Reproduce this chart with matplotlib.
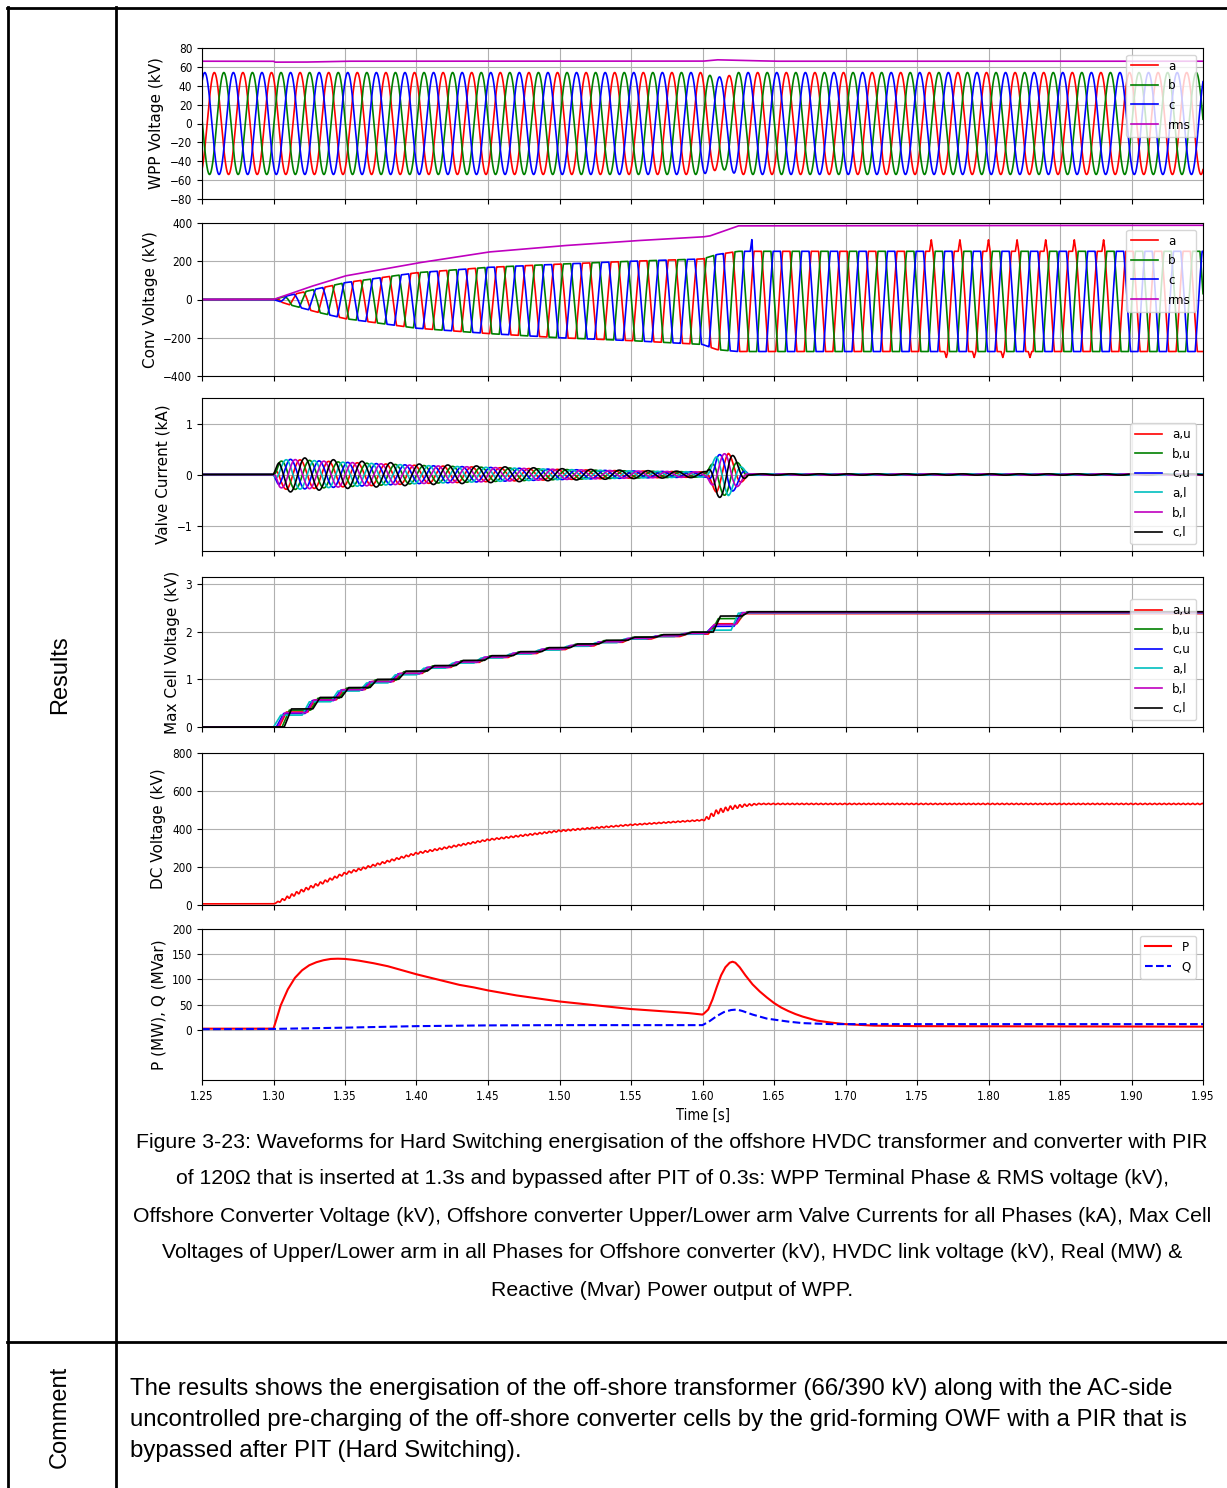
import numpy as np
import matplotlib.pyplot as plt
from matplotlib.lines import Line2D

plt.rcParams['font.family'] = ['DejaVu Sans']
plt.rcParams['font.stretch'] = 'condensed'

# --- simulation settings ---
t_start, t_end = 1.25, 1.95
f_grid = 50.0
t_peak_a = 1.2586          # first positive peak of phase a

# WPP terminal voltage (kV)
wpp_t = [1.25, 1.30, 1.60, 1.607, 1.615, 1.625, 1.95]
wpp_peak = [54, 54, 54, 50, 49, 54, 54]
wpp_rms_t = [1.25, 1.30, 1.301, 1.32, 1.35, 1.60, 1.61, 1.625, 1.65, 1.95]
wpp_rms = [66, 66, 65, 65, 66, 66, 67.5, 67, 66, 66]

# converter phase voltage envelopes (kV)
conv_t = [1.25, 1.30, 1.31, 1.33, 1.35, 1.40, 1.45, 1.50, 1.55, 1.60, 1.61, 1.625, 1.95]
conv_pos = [0, 0, 20, 55, 88, 140, 168, 185, 200, 212, 235, 252, 252]
conv_neg = [0, 0, 25, 65, 100, 150, 178, 200, 215, 235, 262, 272, 272]
conv_rms_t = [1.25, 1.30, 1.325, 1.35, 1.40, 1.45, 1.50, 1.55, 1.60, 1.605, 1.625, 1.95]
conv_rms = [0, 0, 65, 123, 190, 248, 280, 306, 327, 332, 385, 388]
# overshoots: phase index (0=a, 1=b, 2=c), time (s), height (kV)
spike_phase = [2, 0, 0, 0, 0, 0, 0, 0, 0, 0, 0, 0]
spike_t = [1.6346, 1.760, 1.7705, 1.780, 1.790, 1.800, 1.810, 1.820, 1.829, 1.840, 1.860, 1.8805]
spike_kv = [66, 60, -31, 60, -31, 60, -31, 60, -31, 60, 60, 60]

# valve current envelope (kA)
vc_t = [1.25, 1.30, 1.304, 1.31, 1.35, 1.40, 1.45, 1.50, 1.55, 1.60, 1.603, 1.61, 1.618, 1.626, 1.632, 1.95]
vc_amp = [0, 0, 0.25, 0.30, 0.24, 0.18, 0.14, 0.10, 0.07, 0.05, 0.05, 0.38, 0.42, 0.20, 0.01, 0.01]

# max cell voltage envelope (kV)
cell_t = [1.25, 1.30, 1.31, 1.32, 1.35, 1.40, 1.45, 1.50, 1.55, 1.60, 1.61, 1.62, 1.95]
cell_env = [0, 0, 0.25, 0.42, 0.76, 1.19, 1.46, 1.67, 1.86, 1.99, 2.05, 2.41, 2.41]
cell_final = [2.38, 2.42, 2.40, 2.39, 2.40, 2.42]
cell_delay = [0.004, 0.006, 0.002, 0.0, 0.003, 0.0075]

# DC link voltage (kV)
dc_t = [1.25, 1.30, 1.305, 1.31, 1.32, 1.35, 1.40, 1.45, 1.50, 1.55, 1.60, 1.603, 1.61, 1.62, 1.63, 1.64, 1.95]
dc_v = [6, 6, 22, 40, 75, 166, 272, 343, 390, 422, 447, 455, 490, 512, 525, 532, 532]
dc_ripple = [0, 0, 6, 8, 8, 6, 5, 4, 4, 3, 3, 10, 12, 10, 6, 3, 3]

# WPP power output
p_t = [1.25, 1.30, 1.302, 1.305, 1.31, 1.315, 1.32, 1.325, 1.33, 1.335, 1.34, 1.345,
       1.35, 1.355, 1.36, 1.37, 1.38, 1.39, 1.40, 1.41, 1.42, 1.43, 1.44, 1.45,
       1.46, 1.47, 1.48, 1.49, 1.50, 1.51, 1.52, 1.53, 1.54, 1.55, 1.56, 1.57,
       1.58, 1.59, 1.60, 1.601, 1.604, 1.607, 1.61, 1.613, 1.616, 1.619, 1.621, 1.623,
       1.626, 1.63, 1.635, 1.64, 1.645, 1.65, 1.655, 1.66, 1.665, 1.67, 1.675, 1.68,
       1.69, 1.70, 1.72, 1.75, 1.95]
p_mw = [2, 2, 20, 48, 80, 103, 118, 128, 134, 138, 140.5, 141,
        140.5, 139, 137, 132, 126, 118, 110, 103, 96, 89, 84, 78,
        73, 68, 64, 60, 56, 53, 50, 47, 44, 41, 39, 37,
        35, 33, 30, 32, 40, 60, 85, 108, 124, 133, 135, 133,
        124, 108, 90, 76, 64, 53, 44, 37, 31, 26, 22, 18,
        14, 11, 8, 7, 6]
q_t = [1.25, 1.30, 1.35, 1.40, 1.45, 1.50, 1.55, 1.60, 1.605, 1.61, 1.615, 1.62, 1.624,
       1.628, 1.635, 1.64, 1.645, 1.65, 1.66, 1.67, 1.68, 1.69, 1.95]
q_mvar = [1, 1.5, 4, 7, 8.5, 9, 9, 9, 17, 27, 35, 39, 40,
          37, 30, 26, 22, 20, 16, 13, 12, 11, 11]

xticks = [1.25, 1.30, 1.35, 1.40, 1.45, 1.50, 1.55, 1.60, 1.65, 1.70, 1.75, 1.80, 1.85, 1.90, 1.95]

# --- waveforms ---
t = np.arange(t_start, t_end + 1e-9, 2e-5)
theta = 2 * np.pi * f_grid * (t - t_peak_a)
ph3 = np.deg2rad([0, -120, 120])
ph6 = np.deg2rad([0, -120, 120, 180, 60, -60])


def bump(tc, h, w=0.0012):
    return h * np.clip(1 - np.abs(t - tc) / w, 0, None)


W, H = 1227, 1488
fig = plt.figure(figsize=(W / 100, H / 100), dpi=100)


def add_ax(top, bottom):
    return fig.add_axes([202 / W, 1 - bottom / H, 1001 / W, (bottom - top) / H])


axes = [add_ax(48, 199), add_ax(223, 376), add_ax(398, 551),
        add_ax(577, 727), add_ax(753, 905), add_ax(929, 1080)]
lw = 1.2
leg_kw = dict(fontsize=9.5)

# WPP voltage
ax = axes[0]
amp = np.interp(t, wpp_t, wpp_peak)
for sh, c, lab in zip(ph3, ['r', 'g', 'b'], ['a', 'b', 'c']):
    ax.plot(t, amp * np.cos(theta + sh), color=c, lw=lw, label=lab)
ax.plot(t, np.interp(t, wpp_rms_t, wpp_rms), color='m', lw=lw, label='rms')
ax.set_ylim(-80, 80)
ax.set_yticks(range(-80, 81, 20))
ax.set_ylabel('WPP Voltage (kV)')
ax.legend(loc='upper right', **leg_kw)

# converter voltage
ax = axes[1]
pos = np.interp(t, conv_t, conv_pos)
neg = np.interp(t, conv_t, conv_neg)
for i, (sh, c, lab) in enumerate(zip(ph3, ['r', 'g', 'b'], ['a', 'b', 'c'])):
    s = np.clip(1.45 * np.cos(theta + sh), -1, 1)
    v = np.where(s >= 0, pos * s, neg * s)
    for ph, ts, h in zip(spike_phase, spike_t, spike_kv):
        if ph == i:
            v = v + bump(ts, h)
    ax.plot(t, v, color=c, lw=lw, label=lab)
ax.plot(t, np.interp(t, conv_rms_t, conv_rms), color='m', lw=lw, label='rms')
ax.set_ylim(-400, 400)
ax.set_yticks([-400, -200, 0, 200, 400])
ax.set_ylabel('Conv Voltage (kV)')
ax.legend(loc='upper right', **leg_kw)

# valve currents
arm_cols = ['r', 'g', 'b', 'c', 'm', 'k']
arm_labs = ['a,u', 'b,u', 'c,u', 'a,l', 'b,l', 'c,l']
arm_gain = [1, 1, 1, 1, 1, 1.15]
ax = axes[2]
ia = np.interp(t, vc_t, vc_amp)
for sh, c, lab, g in zip(ph6, arm_cols, arm_labs, arm_gain):
    ax.plot(t, g * ia * np.cos(theta + sh), color=c, lw=lw, label=lab)
ax.set_ylim(-1.5, 1.5)
ax.set_yticks([-1, 0, 1])
ax.set_ylabel('Valve Current (kA)')
ax.legend(loc='lower right', **leg_kw)

# max cell voltages (each arm charges once per cycle, short ramp per step)
ax = axes[3]
period = 1 / f_grid
ramp = 0.005
for d, c, lab, vf in zip(cell_delay, arm_cols, arm_labs, cell_final):
    t0 = 1.30 + d
    k = np.floor((t - t0) / period)
    tk = t0 + k * period
    v_new = np.interp(tk + 0.5 * period, cell_t, cell_env)
    v_old = np.interp(tk - 0.5 * period, cell_t, cell_env)
    frac = np.clip((t - tk) / ramp, 0, 1)
    v = np.where(t >= t0, v_old + (v_new - v_old) * frac, 0.0)
    v = v * vf / cell_env[-1]
    ax.plot(t, v, color=c, lw=lw, label=lab)
ax.set_ylim(0, 3.15)
ax.set_yticks([0, 1, 2, 3])
ax.set_ylabel('Max Cell Voltage (kV)')
ax.legend(loc='lower right', **leg_kw)

# DC link voltage
ax = axes[4]
vdc = np.interp(t, dc_t, dc_v) + np.interp(t, dc_t, dc_ripple) * np.sin(6 * theta)
ax.plot(t, vdc, color='r', lw=lw)
ax.set_ylim(0, 800)
ax.set_yticks(range(0, 801, 200))
ax.set_ylabel('DC Voltage (kV)')

# active / reactive power
ax = axes[5]
ax.plot(p_t, p_mw, color='r', lw=1.5, label='P')
ax.plot(q_t, q_mvar, color='b', lw=1.5, ls='--', label='Q')
ax.set_ylim(-100, 200)
ax.set_yticks(range(0, 201, 50))
ax.set_ylabel('P (MW), Q (MVar)')
ax.set_xlabel('Time [s]', fontsize=10.5)
ax.legend(loc='upper right', **leg_kw)

for i, ax in enumerate(axes):
    ax.set_xlim(t_start, t_end)
    ax.set_xticks(xticks)
    ax.grid(True, color='#b0b0b0', lw=0.8)
    ax.tick_params(labelsize=8.5)
    ax.yaxis.label.set_fontsize(11)
    ax.yaxis.label.set_fontstretch('normal')
    if i < 5:
        ax.set_xticklabels([])
    else:
        ax.set_xticklabels(['%.2f' % x for x in xticks])

# table frame
frame = dict(transform=fig.transFigure, color='k', lw=2)
fig.add_artist(Line2D([7 / W, 1], [1 - 7.5 / H, 1 - 7.5 / H], **frame))
fig.add_artist(Line2D([7.5 / W, 7.5 / W], [0, 1 - 7 / H], **frame))
fig.add_artist(Line2D([116 / W, 116 / W], [0, 1 - 7 / H], **frame))
fig.add_artist(Line2D([7 / W, 1], [1 - 1342 / H, 1 - 1342 / H], **frame))

txt = dict(family='Liberation Sans', stretch='normal')
fig.text(60 / W, 1 - 675 / H, 'Results', rotation=90, ha='center', va='center', fontsize=17, **txt)
fig.text(60 / W, 1 - 1417 / H, 'Comment', rotation=90, ha='center', va='center', fontsize=17, **txt)

caption = [
    'Figure 3-23: Waveforms for Hard Switching energisation of the offshore HVDC transformer and converter with PIR',
    'of 120Ω that is inserted at 1.3s and bypassed after PIT of 0.3s: WPP Terminal Phase & RMS voltage (kV),',
    'Offshore Converter Voltage (kV), Offshore converter Upper/Lower arm Valve Currents for all Phases (kA), Max Cell',
    'Voltages of Upper/Lower arm in all Phases for Offshore converter (kV), HVDC link voltage (kV), Real (MW) &',
    'Reactive (Mvar) Power output of WPP.',
]
for k, line in enumerate(caption):
    fig.text(672 / W, 1 - (1142 + 37 * k) / H, line, ha='center', va='center', fontsize=15.3, **txt)

comment = [
    'The results shows the energisation of the off-shore transformer (66/390 kV) along with the AC-side',
    'uncontrolled pre-charging of the off-shore converter cells by the grid-forming OWF with a PIR that is',
    'bypassed after PIT (Hard Switching).',
]
for k, line in enumerate(comment):
    fig.text(130 / W, 1 - (1389 + 31 * k) / H, line, ha='left', va='center', fontsize=17.3, **txt)

fig.savefig('out.png', dpi=100)
